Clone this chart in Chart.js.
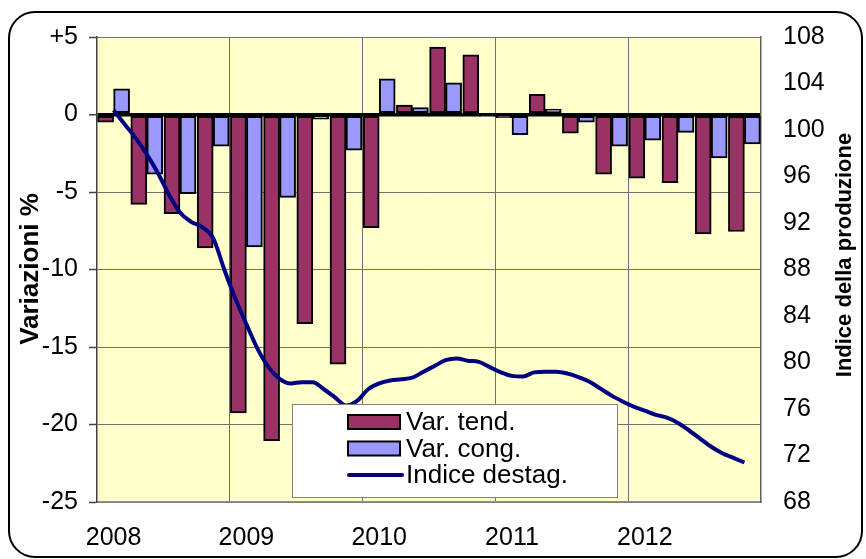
<!DOCTYPE html>
<html lang="it">
<head>
    <meta charset="UTF-8">
    <title>Produzione industriale</title>
    <style>
        body {
            margin: 0;
            padding: 0;
            background: #ffffff;
        }
        .chart-box {
            width: 866px;
            height: 559px;
            position: relative;
        }
    </style>
</head>
<body>
    <div class="chart-box">
        <canvas id="chart"></canvas>
    </div>
    <script src="https://cdn.jsdelivr.net/npm/chart.js"></script>
    <script>
        // trimestri 2008-2012
        const trimestri = [
            '2008 T1', '2008 T2', '2008 T3', '2008 T4',
            '2009 T1', '2009 T2', '2009 T3', '2009 T4',
            '2010 T1', '2010 T2', '2010 T3', '2010 T4',
            '2011 T1', '2011 T2', '2011 T3', '2011 T4',
            '2012 T1', '2012 T2', '2012 T3', '2012 T4'
        ];

        // variazioni % tendenziali e congiunturali
        const varTend = [-0.5, -5.8, -6.4, -8.6, -19.25, -21.05, -13.5, -16.1, -7.3, 0.6, 4.35, 3.85,
                         -0.2, 1.3, -1.2, -3.85, -4.1, -4.4, -7.7, -7.55];
        const varCong = [1.65, -3.85, -5.1, -2.05, -8.55, -5.35, -0.3, -2.3, 2.3, 0.45, 2.05, -0.1,
                         -1.3, 0.35, -0.5, -2.05, -1.65, -1.15, -2.8, -1.9];

        // indice destagionalizzato, mensile (feb 2008 - nov 2012)
        const indiceDestag = [101.7, 100.5, 99.3, 97.9, 96.3, 94.45, 92.9, 92.1, 91.65, 90.7, 88.0, 85.5,
                              83.3, 81.2, 79.6, 78.6, 78.2, 78.3, 78.3, 77.7, 77.0, 76.3, 76.7, 77.7,
                              78.2, 78.45, 78.55, 78.7, 79.2, 79.7, 80.2, 80.35, 80.15, 80.05, 79.6, 79.15,
                              78.85, 78.8, 79.15, 79.2, 79.2, 79.05, 78.75, 78.35, 77.75, 77.15, 76.65, 76.2,
                              75.85, 75.5, 75.25, 74.8, 74.15, 73.45, 72.75, 72.2, 71.8, 71.4];

        const FONT = "'Liberation Sans', Arial, sans-serif";

        // bordo arrotondato + sfondo area del grafico
        const sfondo = {
            id: 'sfondo',
            beforeDraw(chart) {
                const { ctx, chartArea: a } = chart;
                ctx.save();
                ctx.fillStyle = '#ffffff';
                ctx.fillRect(0, 0, chart.width, chart.height);
                ctx.beginPath();
                ctx.roundRect(9, 12, 853, 545, 26);
                ctx.lineWidth = 2;
                ctx.strokeStyle = '#000000';
                ctx.stroke();
                ctx.fillStyle = '#FFFFCC';
                ctx.fillRect(a.left, a.top, a.right - a.left, a.bottom - a.top);
                ctx.restore();
            }
        };

        // titoli degli assi, entrambi ruotati dal basso verso l'alto
        const titoli = {
            id: 'titoli',
            afterDraw(chart) {
                const { ctx } = chart;
                ctx.save();
                ctx.fillStyle = '#000000';
                ctx.textAlign = 'center';
                ctx.textBaseline = 'middle';
                [[31, 269, 26, 'Variazioni %'], [845, 255, 22, 'Indice della produzione']].forEach(t => {
                    ctx.save();
                    ctx.font = 'bold ' + t[2] + 'px ' + FONT;
                    ctx.translate(t[0], t[1]);
                    ctx.rotate(-Math.PI / 2);
                    ctx.fillText(t[3], 0, 0);
                    ctx.restore();
                });
                ctx.restore();
            }
        };

        // legenda dentro l'area del grafico
        const legenda = {
            id: 'legenda',
            afterDraw(chart) {
                const { ctx, chartArea: a } = chart;
                const x = a.left + 195, y = a.top + 367;
                ctx.save();
                ctx.fillStyle = '#ffffff';
                ctx.fillRect(x, y, 325, 93);
                ctx.strokeStyle = '#808080';
                ctx.lineWidth = 1;
                ctx.strokeRect(x + 0.5, y + 0.5, 325, 93);
                ctx.font = '26px ' + FONT;
                ctx.textBaseline = 'middle';
                const ds = chart.data.datasets;
                const voci = [ds[1], ds[2], ds[0]];
                voci.forEach((d, i) => {
                    const cy = y + 18 + i * 26.5;
                    if (d.type === 'line') {
                        ctx.strokeStyle = d.borderColor;
                        ctx.lineWidth = 4;
                        ctx.lineCap = 'round';
                        ctx.beginPath();
                        ctx.moveTo(x + 57, cy);
                        ctx.lineTo(x + 110, cy);
                        ctx.stroke();
                    } else {
                        ctx.fillStyle = d.backgroundColor;
                        ctx.fillRect(x + 56, cy - 7, 52, 14);
                        ctx.strokeStyle = '#000000';
                        ctx.lineWidth = 2;
                        ctx.strokeRect(x + 56, cy - 7, 52, 14);
                    }
                    ctx.fillStyle = '#000000';
                    ctx.fillText(d.label, x + 114, cy + 1);
                });
                ctx.restore();
            }
        };

        new Chart(document.getElementById('chart'), {
            data: {
                labels: trimestri,
                datasets: [
                    {
                        type: 'line',
                        label: 'Indice destag.',
                        data: indiceDestag.map((v, i) => ({ x: i / 3, y: v })),
                        xAxisID: 'x2',
                        yAxisID: 'y2',
                        borderColor: '#000080',
                        borderWidth: 4,
                        pointRadius: 0,
                        cubicInterpolationMode: 'monotone',
                        order: 0
                    },
                    {
                        type: 'bar',
                        label: 'Var. tend.',
                        data: varTend,
                        backgroundColor: '#993366',
                        borderColor: '#000000',
                        borderWidth: 2,
                        borderSkipped: false,
                        barThickness: 16,
                        order: 1
                    },
                    {
                        type: 'bar',
                        label: 'Var. cong.',
                        data: varCong,
                        backgroundColor: '#9999FF',
                        borderColor: '#000000',
                        borderWidth: 2,
                        borderSkipped: false,
                        barThickness: 16,
                        order: 1
                    }
                ]
            },
            options: {
                responsive: true,
                maintainAspectRatio: false,
                animation: false,
                layout: { padding: { top: 36, left: 0, right: 0, bottom: 0 } },
                plugins: {
                    legend: { display: false },
                    tooltip: { enabled: false }
                },
                scales: {
                    x: {
                        type: 'category',
                        offset: true,
                        afterFit: s => { s.height = 57; },
                        grid: {
                            offset: true,
                            drawTicks: false,
                            color: c => (c.index % 4 === 0 && c.index > 0) ? '#707070' : 'rgba(0,0,0,0)',
                            lineWidth: 1
                        },
                        border: { color: '#909090', width: 1.5 },
                        ticks: {
                            autoSkip: false,
                            maxRotation: 0,
                            padding: 21,
                            color: '#000000',
                            font: { family: FONT, size: 25 },
                            callback: function (v, i) {
                                return i % 4 === 0 ? this.getLabelForValue(v).slice(0, 4) : '';
                            }
                        }
                    },
                    x2: {
                        type: 'linear',
                        display: false,
                        min: -0.5,
                        max: 19.5
                    },
                    y: {
                        position: 'left',
                        min: -25,
                        max: 5,
                        afterFit: s => { s.width = 97; },
                        grid: {
                            color: c => c.tick && c.tick.value === 0 ? '#000000' : '#707070',
                            lineWidth: c => c.tick && c.tick.value === 0 ? 3.5 : 1,
                            tickLength: 8,
                            tickColor: '#404040',
                            tickWidth: 1.5
                        },
                        border: { color: '#404040', width: 1.5 },
                        ticks: {
                            stepSize: 5,
                            padding: 11,
                            color: '#000000',
                            font: { family: FONT, size: 25 },
                            callback: v => v > 0 ? '+' + v : v
                        }
                    },
                    y2: {
                        position: 'right',
                        min: 68,
                        max: 108,
                        afterFit: s => { s.width = 105; },
                        grid: { drawOnChartArea: false, drawTicks: false },
                        border: { color: '#606060', width: 1.5 },
                        ticks: {
                            stepSize: 4,
                            padding: 22,
                            color: '#000000',
                            font: { family: FONT, size: 25 }
                        }
                    }
                }
            },
            plugins: [sfondo, titoli, legenda]
        });
    </script>
</body>
</html>
